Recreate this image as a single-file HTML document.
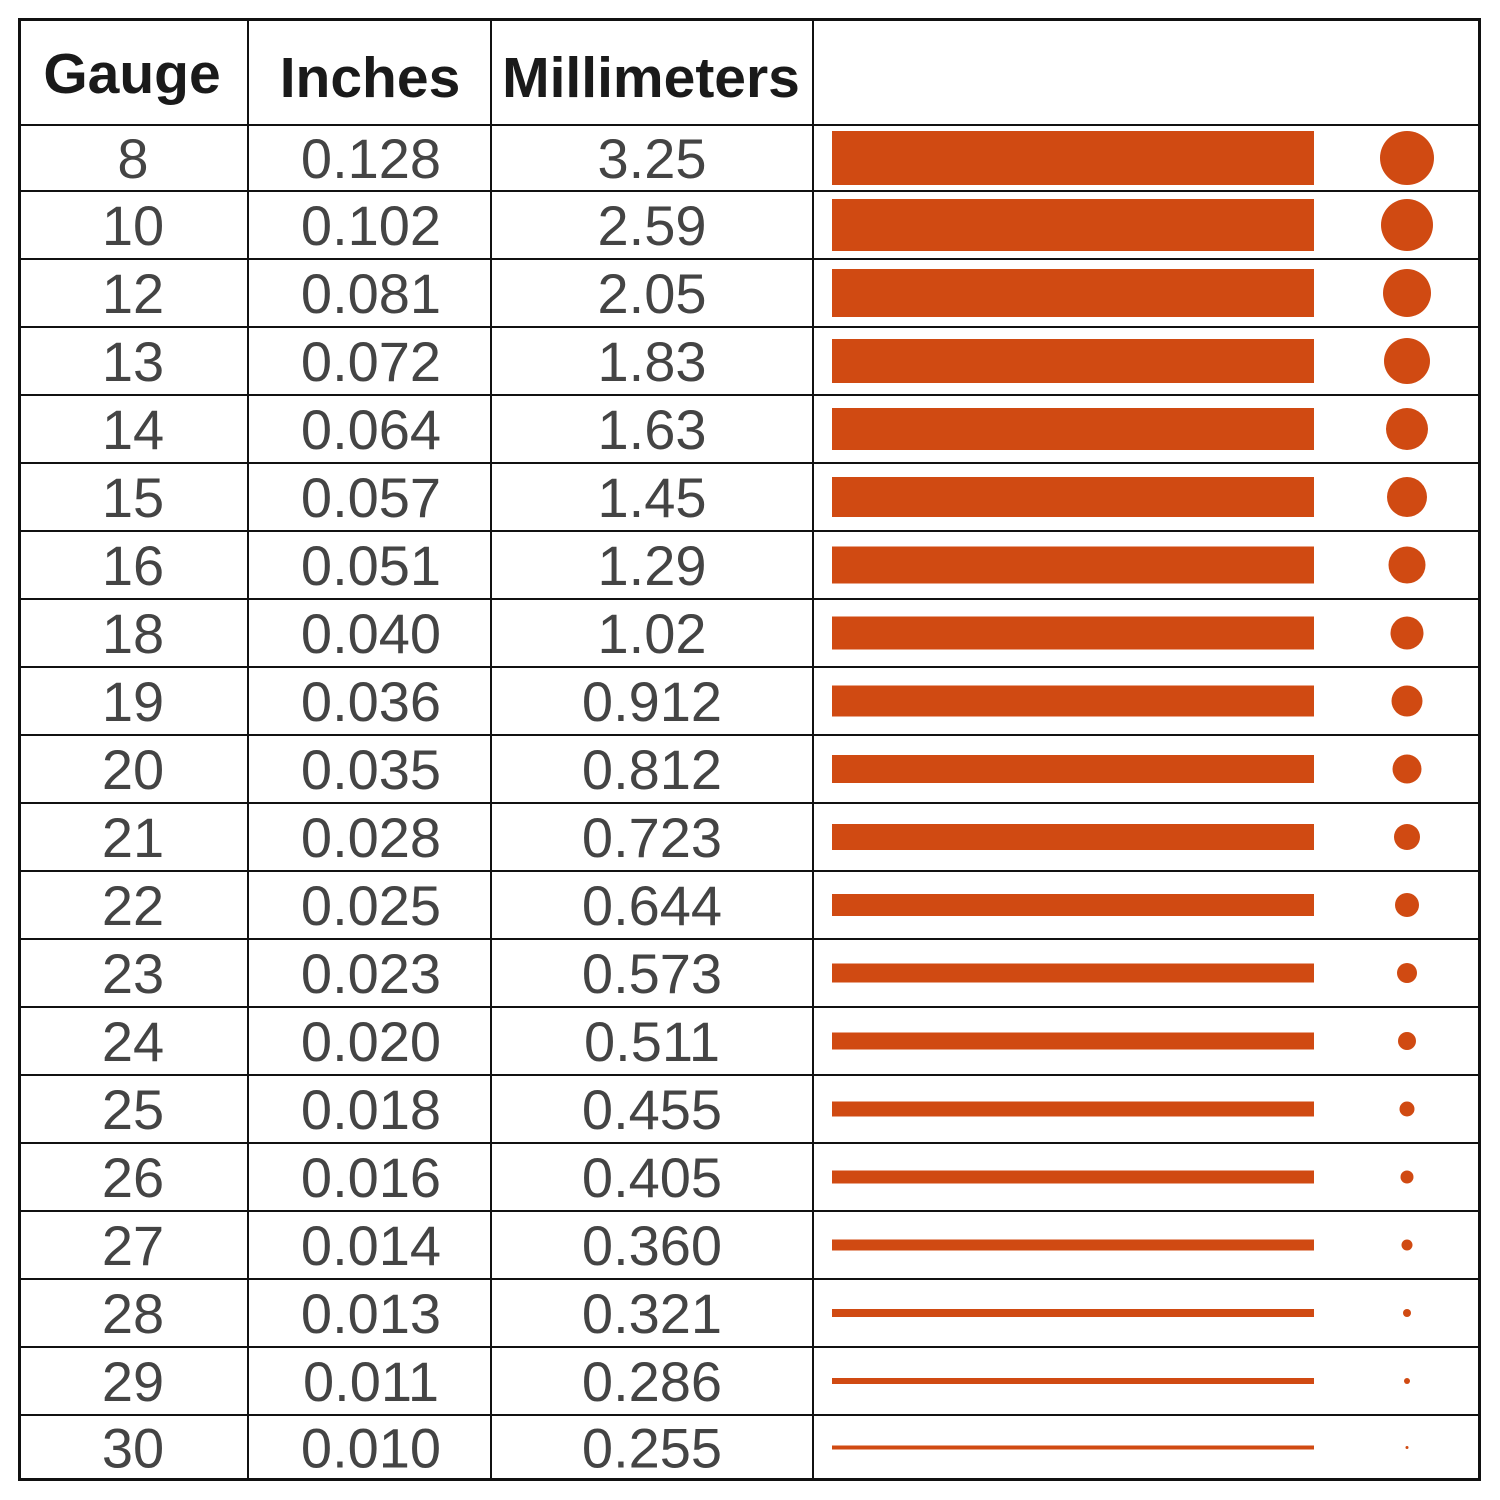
<!DOCTYPE html>
<html><head><style>
html,body{margin:0;padding:0;background:#fff;}
svg{display:block;}
text{font-family:"Liberation Sans",Arial,sans-serif;}
</style></head><body>
<svg id="s" width="1500" height="1500" viewBox="0 0 1500 1500" xmlns="http://www.w3.org/2000/svg">
<rect x="0" y="0" width="1500" height="1500" fill="#fff"/>
<g font-weight="bold" font-size="57" fill="#1a1a1a" text-anchor="middle">
<text x="132" y="93">Gauge</text>
<text x="370" y="97">Inches</text>
<text x="651" y="97">Millimeters</text>
</g>
<g id="rows" font-size="56" fill="#444" text-anchor="middle"></g>
<g id="shapes" fill="#d04a12"></g>
<g id="lines" stroke="#111" stroke-width="2"></g>
<rect x="19.5" y="19.5" width="1460" height="1460" fill="none" stroke="#111" stroke-width="3"/>
</svg>
<script>
(function(){
var data=[["8","0.128","3.25",54,54],["10","0.102","2.59",52,52],["12","0.081","2.05",48,48],["13","0.072","1.83",44,46],["14","0.064","1.63",42,42],["15","0.057","1.45",40,40],["16","0.051","1.29",37,37],["18","0.040","1.02",33,33],["19","0.036","0.912",31,31],["20","0.035","0.812",28,29],["21","0.028","0.723",26,26],["22","0.025","0.644",22,24],["23","0.023","0.573",19,20],["24","0.020","0.511",17,18],["25","0.018","0.455",15,15],["26","0.016","0.405",13,13],["27","0.014","0.360",11,11],["28","0.013","0.321",8,8],["29","0.011","0.286",6,6],["30","0.010","0.255",4,3]];
var Y=[125,191,259,327,395,463,531,599,667,735,803,871,939,1007,1075,1143,1211,1279,1347,1415,1480];
var NS="http://www.w3.org/2000/svg";
var rows=document.getElementById("rows"),sh=document.getElementById("shapes"),ln=document.getElementById("lines");
function el(p,t,a,txt){var e=document.createElementNS(NS,t);for(var k in a)e.setAttribute(k,a[k]);if(txt)e.textContent=txt;p.appendChild(e);return e;}
data.forEach(function(d,i){
 var cy=(Y[i]+Y[i+1])/2;
 el(rows,"text",{x:133,y:cy+20},d[0]);
 el(rows,"text",{x:371,y:cy+20},d[1]);
 el(rows,"text",{x:652,y:cy+20},d[2]);
 el(sh,"rect",{x:832,y:cy-d[3]/2,width:482,height:d[3]});
 el(sh,"circle",{cx:1407,cy:cy,r:d[4]/2});
 el(ln,"line",{x1:19,x2:1480,y1:Y[i],y2:Y[i]});
});
[248,491,813].forEach(function(x){el(ln,"line",{x1:x,x2:x,y1:19,y2:1480});});
})();
</script>
</body></html>
